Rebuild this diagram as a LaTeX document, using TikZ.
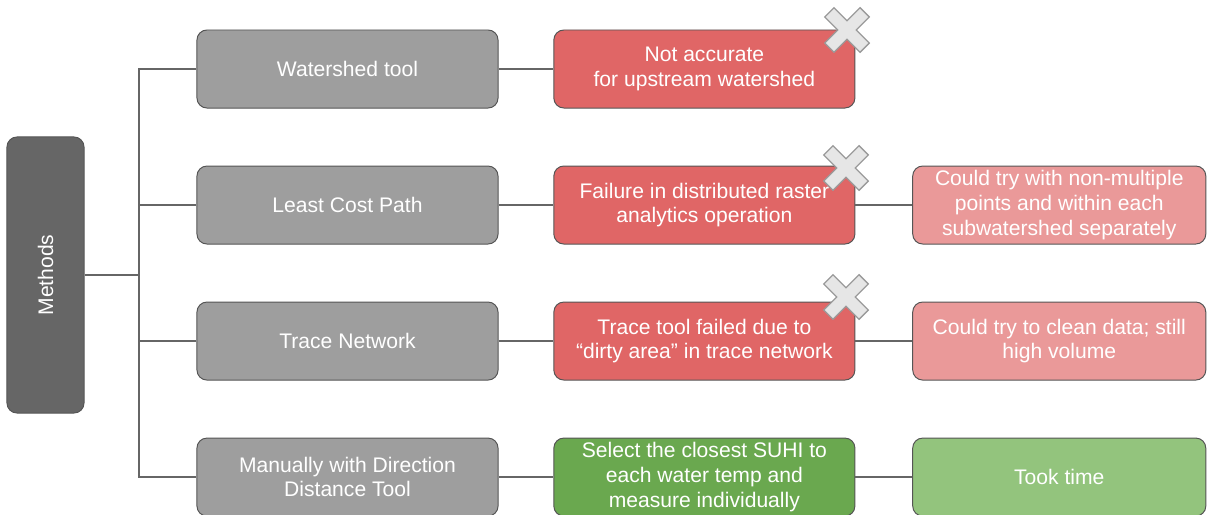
\documentclass[tikz,border=0pt]{standalone}
\usepackage{fontspec}
\setmainfont{Liberation Sans}
\usetikzlibrary{positioning}

\definecolor{linegray}{HTML}{666666}
\definecolor{edgegray}{HTML}{555555}
\definecolor{rootgray}{HTML}{666666}
\definecolor{methodgray}{HTML}{9E9E9E}
\definecolor{failred}{HTML}{E06666}
\definecolor{ideared}{HTML}{EA9999}
\definecolor{okgreen}{HTML}{6AA84F}
\definecolor{notegreen}{HTML}{93C47D}
\definecolor{crossfill}{HTML}{E6E6E6}
\definecolor{crossedge}{HTML}{9A9A9A}

\tikzset{
  xmark/.pic={
    \draw[fill=crossfill, draw=crossedge, line width=0.9pt, rotate=45]
      (6.5,6.5) -- (25,6.5) -- (25,-6.5) -- (6.5,-6.5) -- (6.5,-25) -- (-6.5,-25)
      -- (-6.5,-6.5) -- (-25,-6.5) -- (-25,6.5) -- (-6.5,6.5) -- (-6.5,25) -- (6.5,25) -- cycle;
  }
}

\begin{document}
\begin{tikzpicture}[x=0.025cm, y=-0.025cm, node distance=1.425cm,
  box/.style = {draw=edgegray, line width=0.7pt, rounded corners=0.25cm,
    minimum width=7.525cm, minimum height=1.95cm, align=center, text=white,
    inner sep=2pt, font=\fontsize{15}{17.5}\selectfont},
  root/.style = {box, fill=rootgray, minimum width=1.925cm, minimum height=6.9cm},
  method/.style = {box, fill=methodgray},
  fail/.style = {box, fill=failred},
  idea/.style = {box, fill=ideared, minimum width=7.325cm},
  ok/.style = {box, fill=okgreen},
  note/.style = {box, fill=notegreen, minimum width=7.325cm},
  link/.style = {draw=linegray, line width=1.3pt}]
\useasboundingbox (0,0) rectangle (1207,514);

% methods column
\node[root] (methods) at (45.5,275) {\rotatebox{90}{Methods}};
\node[method] (watershed) at (347.5,69) {Watershed tool};
\node[method] (leastcost) [below=of watershed] {Least Cost Path};
\node[method] (trace) [below=of leastcost] {Trace Network};
\node[method] (manual) [below=of trace] {Manually with Direction\\Distance Tool};

% outcomes
\node[fail] (notacc) [right=1.37cm of watershed] {Not accurate\\for upstream watershed};
\node[fail] (failure) [right=1.37cm of leastcost] {Failure in distributed raster\\analytics operation};
\node[fail] (dirty) [right=1.37cm of trace] {Trace tool failed due to\\``dirty area'' in trace network};
\node[ok] (closest) [right=1.37cm of manual] {Select the closest SUHI to\\each water temp and\\measure individually};

% follow-ups
\node[idea] (nonmulti) [right=1.42cm of failure] {Could try with non-multiple\\points and within each\\subwatershed separately};
\node[idea] (clean) [right=1.42cm of dirty] {Could try to clean data; still\\high volume};
\node[note] (tooktime) [right=1.42cm of closest] {Took time};

% tree lines
\coordinate (jn) at (139,275);
\draw[link] (methods.east) -- (jn);
\draw[link] (watershed.west) -| (jn) |- (manual.west);
\draw[link] (leastcost.west) -- (leastcost.west -| jn);
\draw[link] (trace.west) -- (trace.west -| jn);
\draw[link] (watershed) -- (notacc);
\draw[link] (leastcost) -- (failure);
\draw[link] (trace) -- (dirty);
\draw[link] (manual) -- (closest);
\draw[link] (failure) -- (nonmulti);
\draw[link] (dirty) -- (clean);
\draw[link] (closest) -- (tooktime);

% failure marks
\pic at (847,30) {xmark};
\pic at (846,168) {xmark};
\pic at (846,297) {xmark};
\end{tikzpicture}
\end{document}
